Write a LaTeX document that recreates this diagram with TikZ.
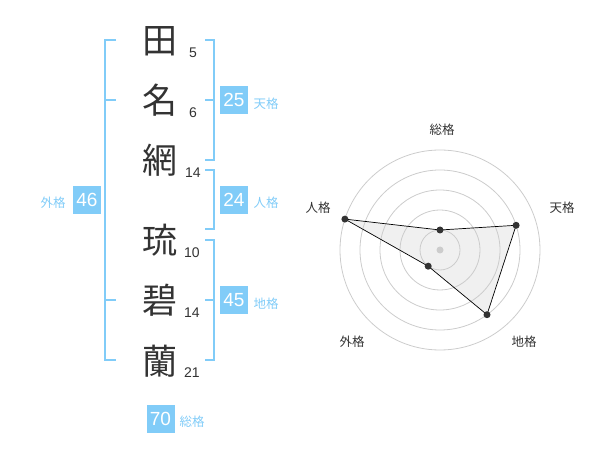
\documentclass[tikz,border=0pt]{standalone}
\usepackage{fontspec}
\setmainfont{Liberation Sans}
\newfontfamily\jpfont{Noto Sans CJK JP}
\usetikzlibrary{positioning}
\definecolor{gradeblue}{HTML}{81CCF8}
\definecolor{inkgray}{HTML}{333333}
\definecolor{ringgray}{HTML}{CCCCCC}
\definecolor{areagray}{HTML}{F0F0F0}
\tikzset{
  kanji/.style = {anchor=base, inner sep=0pt, text=inkgray,
    font=\jpfont\fontsize{35}{35}\selectfont},
  strokes/.style = {anchor=base, inner sep=0pt, text=inkgray,
    font=\fontsize{14}{14}\selectfont},
  bracket/.style = {draw=gradeblue, line width=2pt},
  gradebox/.style = {fill=gradeblue, text=white, inner sep=0pt,
    minimum width=28pt, minimum height=28pt,
    font=\fontsize{19}{19}\selectfont},
  gradename/.style = {text=gradeblue, inner sep=0pt,
    font=\jpfont\fontsize{12.5}{12.5}\selectfont},
  axisname/.style = {text=inkgray, inner sep=0pt,
    font=\jpfont\fontsize{12.5}{12.5}\selectfont},
  dot/.style = {fill=inkgray, draw=none}
}
\begin{document}
\begin{tikzpicture}[x=1pt, y=-1pt]
\useasboundingbox (0,0) rectangle (600,470);
% the name, one character per line
 \node [kanji] (k1) at (160, 54) {田};
 \node [kanji] (k2) at (160, 114) {名};
 \node [kanji] (k3) at (160, 174) {網};
 \node [kanji] (k4) at (160, 254) {琉};
 \node [kanji] (k5) at (160, 314) {碧};
 \node [kanji] (k6) at (160, 374) {蘭};
% stroke counts
 \node [strokes] (s1) at (193, 57.5) {5};
 \node [strokes] (s2) at (193, 117.5) {6};
 \node [strokes] (s3) at (193, 177.5) {14};
 \node [strokes] (s4) at (192, 257.5) {10};
 \node [strokes] (s5) at (192, 317.5) {14};
 \node [strokes] (s6) at (192, 377.5) {21};
% outer bracket
\draw [bracket] (116, 40) -- (105, 40) -- (105, 360) -- (116, 360);
\draw [bracket] (105, 100) -- (116, 100);
\draw [bracket] (105, 300) -- (116, 300);
% right brackets
\draw [bracket] (205, 40) -- (214, 40) -- (214, 160) -- (205, 160);
\draw [bracket] (205, 100) -- (214, 100);
\draw [bracket] (205, 170) -- (214, 170) -- (214, 229) -- (205, 229);
\draw [bracket] (205, 240) -- (214, 240) -- (214, 360) -- (205, 360);
\draw [bracket] (205, 300) -- (214, 300);
% grades
 \node [gradebox] (gai) at (87, 200) {46};
 \node [gradename] (gainame) at (53, 203) {外格};
 \node [gradebox] (ten) at (234, 100) {25};
 \node [gradename] (tenname) at (266, 104) {天格};
 \node [gradebox] (jin) at (234, 200) {24};
 \node [gradename] (jinname) at (266, 203) {人格};
 \node [gradebox] (chi) at (234, 300) {45};
 \node [gradename] (chiname) at (266, 304) {地格};
 \node [gradebox] (sou) at (160.5, 419) {70};
 \node [gradename] (souname) at (192, 422) {総格};
% radar: values
\coordinate (c) at (440, 250);
\coordinate (vsou) at (440, 230);
\coordinate (vten) at (516.1, 225.3);
\coordinate (vchi) at (487.0, 314.7);
\coordinate (vgai) at (428.2, 266.2);
\coordinate (vjin) at (344.9, 219.1);
\fill [areagray] (vsou) -- (vten) -- (vchi) -- (vgai) -- (vjin) -- cycle;
% radar: rings
\foreach \r in {20, 40, 60, 80, 100}
  \draw [ringgray, line width=0.8pt] (c) circle (\r);
\fill [ringgray] (c) circle (3.5);
\draw [black, line width=0.7pt] (vsou) -- (vten) -- (vchi) -- (vgai) -- (vjin) -- cycle;
\foreach \p in {vsou, vten, vchi, vgai, vjin}
  \fill [dot] (\p) circle (3.5);
% radar: axis names
 \node [axisname] (asou) at (442, 130) {総格};
 \node [axisname] (aten) at (562, 208) {天格};
 \node [axisname] (ajin) at (318, 208) {人格};
 \node [axisname] (agai) at (352, 342) {外格};
 \node [axisname] (achi) at (524, 342) {地格};
\end{tikzpicture}
\end{document}
